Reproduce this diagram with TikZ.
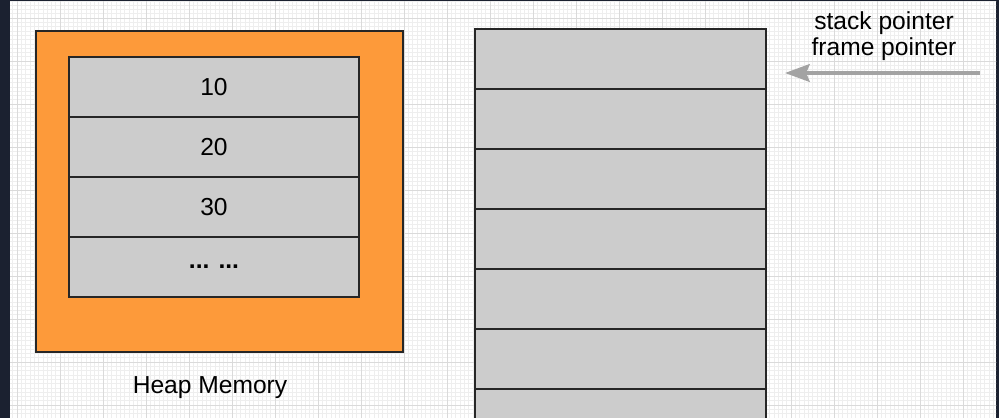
\documentclass[tikz,border=0pt]{standalone}
\usepackage{fontspec}
\setmainfont{Liberation Sans}
\usetikzlibrary{arrows.meta, positioning}

\definecolor{heaporange}{HTML}{FD9A3A}
\definecolor{cellgray}{HTML}{CCCCCC}
\definecolor{framedark}{HTML}{1B2130}
\definecolor{gridminor}{HTML}{EEEEEE}
\definecolor{gridmajor}{HTML}{DADADA}
\definecolor{pointergray}{HTML}{A3A3A3}

\begin{document}
\begin{tikzpicture}[>=Stealth, x=0.02cm, y=-0.02cm,
    every node/.style={font=\fontsize{14}{15}\selectfont},
    heapbox/.style={draw=black!85, line width=0.9pt, fill=heaporange, minimum width=7.34cm, minimum height=6.42cm, inner sep=0pt, outer sep=0pt},
    cell/.style={draw=black!85, line width=0.8pt, fill=cellgray, minimum width=5.8cm, minimum height=1.2cm, inner sep=0pt, outer sep=0pt},
    stackcell/.style={cell, minimum width=5.82cm},
    pointer/.style={pointergray, line width=2.3pt, -{Stealth[length=14pt, width=10pt, inset=2pt]}}]

    \useasboundingbox (0,0) rectangle (999,418);

    % Frame and grid
    \fill[framedark] (0,0) rectangle (999,418);
    \fill[white] (10,2) rectangle (996,418);
    \begin{scope}
        \clip (10,2) rectangle (996,418);
        \foreach \i in {0,...,232} \draw[gridminor, line width=0.3pt] ({4.1+4.3*\i},0) -- ({4.1+4.3*\i},418);
        \foreach \i in {0,...,97} \draw[gridminor, line width=0.3pt] (0,{0.8+4.3*\i}) -- (999,{0.8+4.3*\i});
        \foreach \i in {0,...,23} \draw[gridmajor, line width=0.4pt] ({17+43*\i},0) -- ({17+43*\i},418);
        \foreach \i in {0,...,9} \draw[gridmajor, line width=0.4pt] (0,{18+43*\i}) -- (999,{18+43*\i});

        % Heap
        \node[heapbox, anchor=north west] (heap) at (36,31) {};
        \node[cell, anchor=north west] (h1) at (69,57) {10};
        \node[cell, below=0pt of h1] (h2) {20};
        \node[cell, below=0pt of h2] (h3) {30};
        \node[cell, below=0pt of h3] (h4) {\textbf{... ...}};
        \node (heaplabel) at (210,388) {Heap Memory};

        % Stack
        \foreach \i in {1,...,7}
            \node[stackcell, anchor=north west] (s\i) at (475,{29+60*(\i-1)}) {};

        % Pointer
        \node[align=center] (ptrlabel) at (884,36) {stack pointer\\frame pointer};
        \coordinate (ptrtail) at (980,73);
        \coordinate (ptrtip) at (785,73);
        \draw[pointer] (ptrtail) -- (ptrtip);
    \end{scope}
\end{tikzpicture}
\end{document}
